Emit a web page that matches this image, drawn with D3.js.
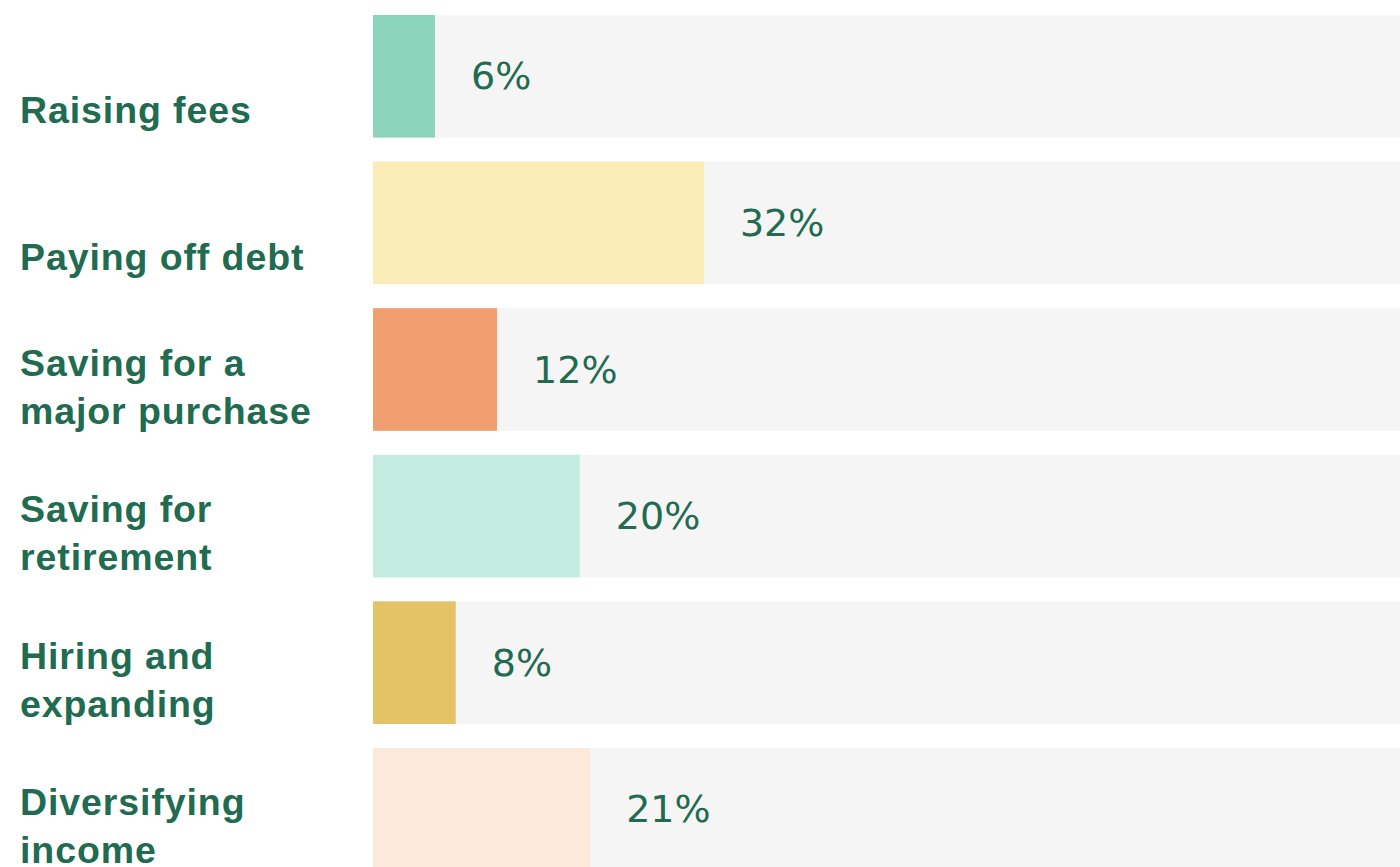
<!DOCTYPE html>
<html>
<head>
<meta charset="utf-8">
<script src="https://cdn.jsdelivr.net/npm/d3@7"></script>
<style>
  html, body { margin: 0; padding: 0; background: #ffffff; }
  svg { display: block; }
</style>
</head>
<body>
<svg id="chart" width="1400" height="867"></svg>
<script>
// ---- data ----
const categories = ["Raising fees", "Paying off debt", "Saving for a major purchase", "Saving for retirement", "Hiring and expanding", "Diversifying income"];
const tickLabels = [["Raising fees"], ["Paying off debt"], ["Saving for a", "major purchase"], ["Saving for", "retirement"], ["Hiring and", "expanding"], ["Diversifying", "income"]];
const values = [6, 32, 12, 20, 8, 21];
const barColors = ["#8dd4bd", "#fbebb6", "#f19f70", "#c4ebe0", "#e4c266", "#fde8dc"];

// ---- layout ----
const W = 1400, H = 867;
const textColor = "#216b51";
const svg = d3.select("#chart");

const x = d3.scaleLinear().domain([0, 100]).range([373, 1407]);
const y = d3.scaleBand().domain(categories).range([15, 870.6]).paddingInner(0.1637).paddingOuter(0);

const rows = categories.map((c, i) => ({ cat: c, lines: tickLabels[i], value: values[i], color: barColors[i] }));

const g = svg.append("g");

// background track
g.selectAll("rect.track").data(rows).enter().append("rect")
  .attr("class", "track")
  .attr("x", x(0)).attr("y", d => y(d.cat))
  .attr("width", x(100) - x(0)).attr("height", y.bandwidth())
  .attr("fill", "#f4f5f4");

// value bars
g.selectAll("rect.bar").data(rows).enter().append("rect")
  .attr("class", "bar")
  .attr("x", x(0)).attr("y", d => y(d.cat))
  .attr("width", d => x(d.value) - x(0)).attr("height", y.bandwidth())
  .attr("fill", d => d.color);

// value labels
g.selectAll("text.val").data(rows).enter().append("text")
  .attr("class", "val")
  .attr("x", d => x(d.value) + 36)
  .attr("y", d => y(d.cat) + y.bandwidth() / 2 + 13)
  .attr("fill", textColor)
  .attr("font-family", "'DejaVu Sans', sans-serif")
  .attr("font-size", 38)
  .text(d => d.value + "%");

// category labels
const lineH = 48;
const lbl = g.selectAll("text.cat").data(rows).enter().append("text")
  .attr("class", "cat")
  .attr("x", 20)
  .attr("y", d => {
    const c = y(d.cat) + y.bandwidth() / 2;
    return d.lines.length === 1 ? c + 35 + 12 : c - 6 + 12;
  })
  .attr("fill", textColor)
  .attr("font-family", "'Liberation Sans', Arial, sans-serif")
  .attr("font-weight", "bold")
  .attr("font-size", 37.5)
  .attr("letter-spacing", "0.9px");

lbl.selectAll("tspan").data(d => d.lines).enter().append("tspan")
  .attr("x", 20)
  .attr("dy", (d, i) => i === 0 ? 0 : lineH)
  .text(d => d);
</script>
</body>
</html>
